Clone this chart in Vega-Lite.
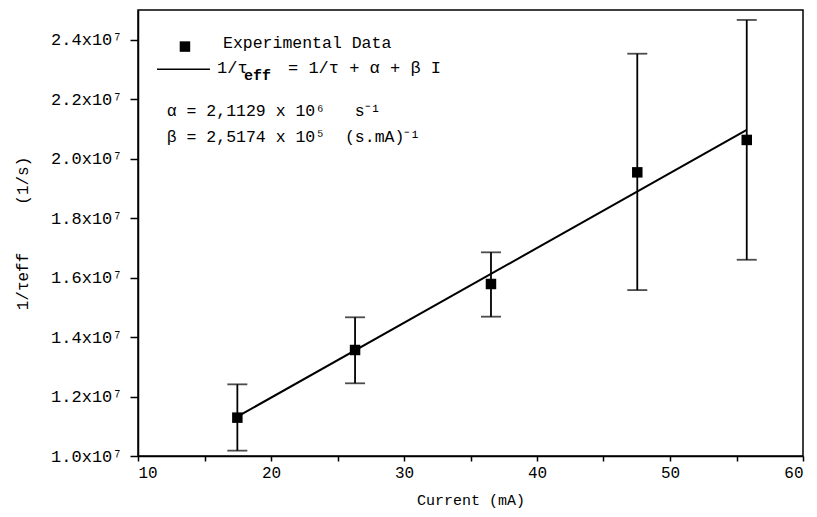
{
  "$schema": "https://vega.github.io/schema/vega-lite/v6.json",
  "width": 665,
  "height": 446,
  "autosize": {"type": "none"},
  "padding": {"left": 138, "top": 10, "right": 14, "bottom": 61},
  "background": "white",
  "config": {
    "view": {"stroke": "black", "strokeWidth": 1.5},
    "axis": {
      "grid": false,
      "domainColor": "black",
      "domainWidth": 1.5,
      "tickColor": "black",
      "tickWidth": 1.5,
      "tickSize": 5,
      "labelFont": "Liberation Mono",
      "labelFontSize": 16,
      "labelColor": "black",
      "titleFont": "Liberation Mono",
      "titleFontSize": 15,
      "titleFontWeight": "normal",
      "titleColor": "black"
    },
    "text": {"font": "Liberation Mono", "fontSize": 16.5, "color": "black"}
  },
  "datasets": {
    "pts": [
      {"I": 17.47, "r": 11290000, "lo": 10180000, "hi": 12410000},
      {"I": 26.32, "r": 13565000, "lo": 12445000, "hi": 14665000},
      {"I": 36.54, "r": 15785000, "lo": 14686000, "hi": 16850000},
      {"I": 47.54, "r": 19540000, "lo": 15580000, "hi": 23530000},
      {"I": 55.77, "r": 20630000, "lo": 16600000, "hi": 24665000}
    ],
    "fit": [
      {"I": 17.47, "r": 11325000},
      {"I": 55.77, "r": 20965000}
    ]
  },
  "layer": [
    {
      "data": {"name": "pts"},
      "mark": {"type": "rule", "color": "black", "strokeWidth": 1.8},
      "encoding": {
        "x": {"field": "I", "type": "quantitative", "scale": {"domain": [10, 60], "nice": false},
          "axis": {"title": "Current (mA)", "values": [10, 15, 20, 25, 30, 35, 40, 45, 50, 55, 60],
            "labelExpr": "datum.value % 10 == 0 ? datum.label : ''", "labelPadding": 3, "titlePadding": 12}},
        "y": {"field": "lo", "type": "quantitative", "scale": {"domain": [10000000, 25000000], "nice": false},
          "axis": {"title": "1/τeff\u00a0\u00a0\u00a0\u00a0\u00a0(1/s)",
            "values": [10000000, 11000000, 12000000, 13000000, 14000000, 15000000, 16000000, 17000000, 18000000, 19000000, 20000000, 21000000, 22000000, 23000000, 24000000, 25000000],
            "labelExpr": "(round(datum.value/1000000) % 2 == 0 && datum.value < 24500000) ? format(datum.value/10000000, '.1f') + 'x10⁷' : ''",
            "labelFontSize": 17, "tickSize": 8, "labelPadding": 8, "titlePadding": 20, "titleFontSize": 16}},
        "y2": {"field": "hi"}
      }
    },
    {
      "data": {"name": "pts"},
      "mark": {"type": "tick", "orient": "horizontal", "color": "black", "size": 20, "thickness": 1.8},
      "encoding": {
        "x": {"field": "I", "type": "quantitative"},
        "y": {"field": "lo", "type": "quantitative"}
      }
    },
    {
      "data": {"name": "pts"},
      "mark": {"type": "tick", "orient": "horizontal", "color": "black", "size": 20, "thickness": 1.8},
      "encoding": {
        "x": {"field": "I", "type": "quantitative"},
        "y": {"field": "hi", "type": "quantitative"}
      }
    },
    {
      "data": {"name": "fit"},
      "mark": {"type": "line", "color": "black", "strokeWidth": 2},
      "encoding": {
        "x": {"field": "I", "type": "quantitative"},
        "y": {"field": "r", "type": "quantitative"}
      }
    },
    {
      "data": {"name": "pts"},
      "mark": {"type": "point", "shape": "square", "filled": true, "color": "black", "size": 110, "opacity": 1},
      "encoding": {
        "x": {"field": "I", "type": "quantitative"},
        "y": {"field": "r", "type": "quantitative"}
      }
    },
    {
      "data": {"values": [{}]},
      "mark": {"type": "point", "shape": "square", "filled": true, "color": "black", "size": 110, "opacity": 1},
      "encoding": {
        "x": {"datum": 13.53, "type": "quantitative"},
        "y": {"datum": 23770000, "type": "quantitative"}
      }
    },
    {
      "data": {"values": [{}]},
      "mark": {"type": "rule", "color": "black", "strokeWidth": 1.5},
      "encoding": {
        "x": {"datum": 11.43, "type": "quantitative"},
        "x2": {"datum": 15.41},
        "y": {"datum": 23007000, "type": "quantitative"}
      }
    },
    {
      "data": {"values": [{}]},
      "mark": {"type": "text", "align": "left", "baseline": "middle", "text": "Experimental Data"},
      "encoding": {
        "x": {"datum": 16.39, "type": "quantitative"},
        "y": {"datum": 23890000, "type": "quantitative"}
      }
    },
    {
      "data": {"values": [{}]},
      "mark": {"type": "text", "align": "left", "baseline": "middle", "text": "1/τ", "fontSize": 17},
      "encoding": {
        "x": {"datum": 15.94, "type": "quantitative"},
        "y": {"datum": 23050000, "type": "quantitative"}
      }
    },
    {
      "data": {"values": [{}]},
      "mark": {"type": "text", "align": "left", "baseline": "middle", "text": "eff", "fontSize": 15, "fontWeight": "bold", "dx": 27, "dy": 7},
      "encoding": {
        "x": {"datum": 15.94, "type": "quantitative"},
        "y": {"datum": 23050000, "type": "quantitative"}
      }
    },
    {
      "data": {"values": [{}]},
      "mark": {"type": "text", "align": "left", "baseline": "middle", "text": "= 1/τ + α + β I", "fontSize": 17, "dx": 71},
      "encoding": {
        "x": {"datum": 15.94, "type": "quantitative"},
        "y": {"datum": 23050000, "type": "quantitative"}
      }
    },
    {
      "data": {"values": [{}]},
      "mark": {"type": "text", "align": "left", "baseline": "middle", "text": "α = 2,1129 x 10⁶\u00a0\u00a0\u00a0s⁻¹"},
      "encoding": {
        "x": {"datum": 12.16, "type": "quantitative"},
        "y": {"datum": 21600000, "type": "quantitative"}
      }
    },
    {
      "data": {"values": [{}]},
      "mark": {"type": "text", "align": "left", "baseline": "middle", "text": "β = 2,5174 x 10⁵\u00a0\u00a0(s.mA)⁻¹"},
      "encoding": {
        "x": {"datum": 12.16, "type": "quantitative"},
        "y": {"datum": 20730000, "type": "quantitative"}
      }
    }
  ]
}
